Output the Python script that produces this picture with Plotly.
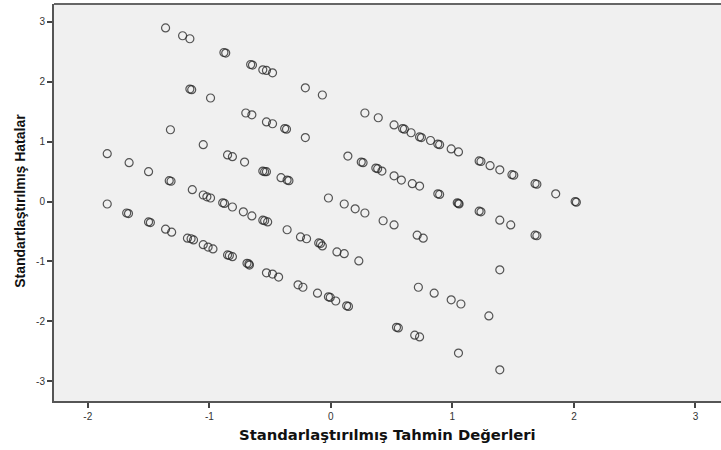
import plotly.graph_objects as go

# Standardized predicted values (x) and standardized residuals (y)
x_vals = [
    # line A
    -1.36, -1.22, -1.16, -0.88, -0.865, -0.66, -0.645, -0.56, -0.53, -0.48, -0.21, -0.07,
    0.28, 0.39, 0.52, 0.59, 0.605, 0.66, 0.73, 0.745, 0.82, 0.88, 0.895, 0.99, 1.05,
    1.22, 1.235, 1.31, 1.39, 1.49, 1.505, 1.68, 1.695, 1.85, 2.01, 2.02,
    # line B
    -1.16, -1.145, -0.99, -0.70, -0.65, -0.53, -0.48, -0.38, -0.365, -0.21,
    0.14, 0.25, 0.265, 0.37, 0.385, 0.42, 0.52, 0.58, 0.67, 0.73, 0.88, 0.895,
    1.04, 1.05, 1.055, 1.22, 1.235, 1.39, 1.48, 1.68, 1.695,
    # line C
    -1.32, -1.05, -0.85, -0.81, -0.71, -0.56, -0.545, -0.53, -0.41, -0.36, -0.345,
    -0.02, 0.11, 0.20, 0.28, 0.43, 0.52, 0.71, 0.76, 1.39,
    # line D
    -1.84, -1.66, -1.50, -1.33, -1.315, -1.14, -1.05, -1.02, -0.99, -0.89, -0.875,
    -0.81, -0.72, -0.65, -0.56, -0.545, -0.52, -0.36, -0.25, -0.20, -0.10, -0.085,
    -0.07, 0.05, 0.11, 0.23, 0.72, 0.85, 0.99, 1.07, 1.30,
    # line E
    -1.84, -1.68, -1.665, -1.50, -1.485, -1.36, -1.31, -1.18, -1.15, -1.13, -1.05,
    -1.01, -0.97, -0.85, -0.835, -0.81, -0.69, -0.675, -0.67, -0.53, -0.48, -0.43,
    -0.27, -0.23, -0.11, -0.02, -0.005, 0.04, 0.13, 0.145, 0.54, 0.555, 0.69, 0.73,
    1.05, 1.39,
]
y_vals = [
    # line A
    2.90, 2.77, 2.72, 2.49, 2.48, 2.29, 2.28, 2.20, 2.19, 2.15, 1.90, 1.78,
    1.48, 1.40, 1.28, 1.22, 1.21, 1.15, 1.08, 1.07, 1.02, 0.96, 0.95, 0.88, 0.83,
    0.68, 0.67, 0.60, 0.53, 0.45, 0.44, 0.30, 0.29, 0.13, 0.00, -0.01,
    # line B
    1.88, 1.87, 1.73, 1.48, 1.45, 1.33, 1.30, 1.22, 1.21, 1.07,
    0.76, 0.66, 0.65, 0.56, 0.55, 0.51, 0.43, 0.36, 0.30, 0.26, 0.13, 0.12,
    -0.02, -0.03, -0.04, -0.16, -0.17, -0.31, -0.39, -0.56, -0.57,
    # line C
    1.20, 0.95, 0.78, 0.75, 0.66, 0.51, 0.50, 0.50, 0.40, 0.36, 0.35,
    0.06, -0.04, -0.12, -0.19, -0.32, -0.39, -0.56, -0.61, -1.14,
    # line D
    0.80, 0.65, 0.50, 0.35, 0.34, 0.20, 0.11, 0.08, 0.06, -0.02, -0.03,
    -0.09, -0.17, -0.24, -0.31, -0.32, -0.34, -0.47, -0.59, -0.62, -0.69, -0.70,
    -0.74, -0.84, -0.87, -0.99, -1.43, -1.53, -1.64, -1.71, -1.91,
    # line E
    -0.04, -0.19, -0.20, -0.34, -0.35, -0.46, -0.51, -0.61, -0.62, -0.64, -0.72,
    -0.76, -0.79, -0.89, -0.90, -0.92, -1.03, -1.04, -1.06, -1.19, -1.21, -1.26,
    -1.39, -1.43, -1.53, -1.59, -1.60, -1.66, -1.74, -1.75, -2.10, -2.11, -2.23, -2.26,
    -2.53, -2.81,
]

x_ticks = [-2, -1, 0, 1, 2, 3]
x_tick_labels = ["-2", "-1", "0", "1", "2", "3"]
y_ticks = [-3, -2, -1, 0, 1, 2, 3]
y_tick_labels = ["-3", "-2", "-1", "0", "1", "2", "3"]

x_title = "Standarlaştırılmış Tahmin Değerleri"
y_title = "Standartlaştırılmış Hatalar"

fig = go.Figure()
fig.add_trace(go.Scatter(
    x=x_vals, y=y_vals, mode="markers",
    marker=dict(symbol="circle-open", size=8, color="rgba(40,40,40,0.78)",
                line=dict(width=1.2)),
    hoverinfo="x+y", showlegend=False,
))

axis_common = dict(
    showgrid=False, zeroline=False, showline=True, linecolor="#555555", linewidth=2,
    ticks="outside", ticklen=5, tickwidth=1.5, tickcolor="#444444",
    tickfont=dict(family="Liberation Sans, Arial, sans-serif", size=10, color="#333333"),
)

fig.update_layout(
    width=721, height=450,
    margin=dict(l=54, r=0, t=4, b=49),
    paper_bgcolor="white", plot_bgcolor="#f0f0f0",
    xaxis=dict(range=[-2.278, 3.21], tickvals=x_ticks, ticktext=x_tick_labels, **axis_common),
    yaxis=dict(range=[-3.33, 3.30], tickvals=y_ticks, ticktext=y_tick_labels, **axis_common),
    shapes=[dict(type="line", xref="paper", yref="paper", x0=0, x1=1, y0=1, y1=1,
                 line=dict(color="#666666", width=2))],
    annotations=[
        dict(text=f"<b>{x_title}</b>", xref="paper", yref="paper", x=0.5, y=-0.0856,
             xanchor="center", yanchor="middle", showarrow=False,
             font=dict(family="DejaVu Sans, Verdana, sans-serif", size=14.8, color="#111111")),
        dict(text=f"<b>{y_title}</b>", xref="paper", yref="paper", x=-0.052, y=0.505,
             xanchor="center", yanchor="middle", showarrow=False, textangle=-90,
             font=dict(family="Liberation Sans Narrow, Arial Narrow, Liberation Sans, sans-serif",
                       size=14, color="#111111")),
    ],
)

fig.write_html("out.html", config={"displayModeBar": False},
               post_script="document.body.style.margin='0';")
